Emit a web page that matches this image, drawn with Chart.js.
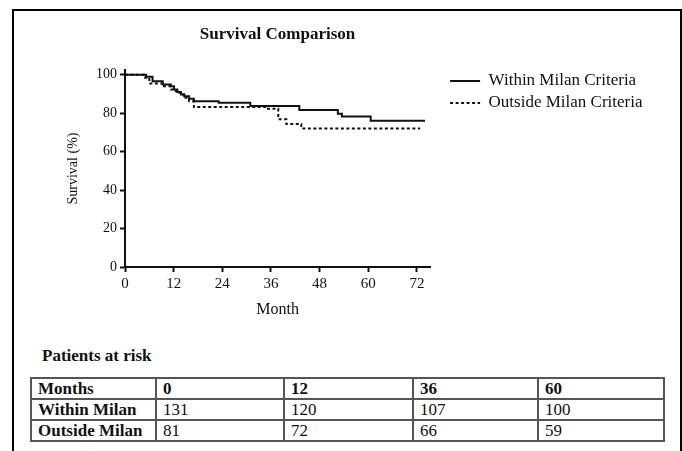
<!DOCTYPE html>
<html>
<head>
<meta charset="utf-8">
<script src="https://cdn.jsdelivr.net/npm/chart.js@4.4.1/dist/chart.umd.min.js"></script>
<style>
  html, body { margin: 0; padding: 0; background: #fff; }
  body { width: 682px; height: 451px; position: relative; overflow: hidden; font-family: "Liberation Serif", "Times New Roman", serif; color: #111; }
  #frame { position: absolute; left: 12px; top: 9px; width: 666px; height: 470px; border: 2px solid #000; border-bottom: none; }
  #wrap { position: absolute; left: 0; top: 0; width: 682px; height: 330px; }
  #riskTitle { position: absolute; left: 42px; top: 346px; font-weight: bold; font-size: 17px; }
  #risk { position: absolute; left: 30px; top: 377px; width: 633px; border-collapse: collapse; table-layout: fixed; font-size: 17px; }
  #risk td { border: 2px solid #555; padding: 0 6px; height: 19px; line-height: 19px; white-space: nowrap; }
  #risk td.b { font-weight: bold; }
</style>
</head>
<body>
<div id="frame"></div>
<div id="wrap"><canvas id="km"></canvas></div>
<div id="riskTitle">Patients at risk</div>
<table id="risk"></table>
<script>
// survival curves (months, % surviving)
const withinMonths = [0, 5.2, 6.8, 9.3, 11.3, 12.1, 12.9, 13.8, 14.6, 15.8, 17, 23.1, 30.9, 43, 52.5, 53.5, 60.6, 74];
const withinSurv   = [100, 99, 96.6, 94.9, 94, 92.3, 91, 89.7, 88.9, 87.5, 86.3, 85.5, 83.8, 81.7, 79.8, 78.3, 76.1, 76.1];
const outsideMonths = [0, 4.5, 6, 9.3, 11.3, 12.1, 12.9, 13.8, 14.6, 15.8, 17, 35, 37.8, 39.8, 43.5, 72.8];
const outsideSurv   = [100, 98.5, 95.5, 94, 92.3, 91.5, 90.6, 89.7, 88, 86.3, 83.2, 82.3, 76.9, 74.4, 72.1, 72.1];
const seriesNames = ['Within Milan Criteria', 'Outside Milan Criteria'];
const xTicks = [0, 12, 24, 36, 48, 60, 72];
const yTicks = [0, 20, 40, 60, 80, 100];

// patients at risk table
const riskMonths = [0, 12, 36, 60];
const riskRowNames = ['Within Milan', 'Outside Milan'];
const riskWithin = [131, 120, 107, 100];
const riskOutside = [81, 72, 66, 59];

const serif = '"Liberation Serif", "Times New Roman", serif';
const ink = '#111';

const toPts = (xs, ys) => xs.map((m, i) => ({ x: m, y: ys[i] }));

new Chart(document.getElementById('km'), {
  type: 'line',
  data: {
    datasets: [{
      label: seriesNames[0],
      data: toPts(withinMonths, withinSurv),
      borderColor: ink,
      borderWidth: 2,
      pointRadius: 0,
      stepped: 'before'
    }, {
      label: seriesNames[1],
      data: toPts(outsideMonths, outsideSurv),
      borderColor: ink,
      borderWidth: 2,
      borderDash: [3, 2.5],
      pointRadius: 0,
      stepped: 'before'
    }]
  },
  options: {
    responsive: true,
    maintainAspectRatio: false,
    animation: false,
    layout: { padding: { top: 15, left: 60.6, right: 29.5, bottom: 8.4 } },
    plugins: {
      title: {
        display: true,
        text: 'Survival Comparison',
        fullSize: false,
        color: ink,
        font: { family: serif, size: 17, weight: 'bold' },
        padding: { top: 9.8, bottom: 24.8 }
      },
      legend: {
        position: 'right',
        align: 'start',
        maxWidth: 300,
        title: { display: true, text: ' ', font: { size: 10 }, padding: { top: 40.5, bottom: 0 } },
        labels: {
          usePointStyle: true,
          pointStyle: 'line',
          pointStyleWidth: 30,
          padding: 5,
          color: ink,
          font: { family: serif, size: 17 },
          // point style 'line' would lose the dash, so pass it on by hand
          generateLabels: chart => chart.data.datasets.map((ds, i) => ({
            text: ds.label,
            fontColor: ink,
            strokeStyle: ds.borderColor,
            fillStyle: ds.borderColor,
            lineWidth: 1.8,
            lineDash: ds.borderDash || [],
            pointStyle: 'line',
            hidden: false,
            datasetIndex: i
          }))
        }
      },
      tooltip: { enabled: false }
    },
    scales: {
      x: {
        type: 'linear',
        min: 0,
        max: 75.25,
        afterBuildTicks: s => { s.ticks = xTicks.map(v => ({ value: v })); },
        ticks: { color: ink, font: { family: serif, size: 15 }, padding: 3, maxRotation: 0, autoSkip: false },
        grid: { drawOnChartArea: false, drawTicks: true, tickLength: 5, tickWidth: 2, color: ink },
        border: { color: ink, width: 2 },
        title: { display: true, text: 'Month', color: ink, font: { family: serif, size: 16 }, padding: { top: 4.4, bottom: 2 } }
      },
      y: {
        min: 0,
        max: 102.5,
        afterBuildTicks: s => { s.ticks = yTicks.map(v => ({ value: v })); },
        ticks: { color: ink, font: { family: serif, size: 14 }, padding: 3 },
        grid: { drawOnChartArea: false, drawTicks: true, tickLength: 5, tickWidth: 2, color: ink },
        border: { color: ink, width: 2 },
        title: { display: true, text: 'Survival (%)', color: ink, font: { family: serif, size: 14 }, padding: { top: 4, bottom: 11.6 } }
      },
      // empty spacer between plot and legend
      gap: {
        type: 'linear',
        position: 'right',
        grid: { display: false },
        border: { display: false },
        ticks: { display: false },
        afterFit: s => { s.width = 15; }
      }
    }
  }
});

// build the at-risk table from the arrays
const table = document.getElementById('risk');
const colW = [125, 128, 129, 125, 126];
const cg = document.createElement('colgroup');
colW.forEach(w => { const c = document.createElement('col'); c.style.width = w + 'px'; cg.appendChild(c); });
table.appendChild(cg);
const addRow = (cells, boldAll) => {
  const tr = document.createElement('tr');
  cells.forEach((v, i) => {
    const td = document.createElement('td');
    td.textContent = v;
    if (boldAll || i === 0) td.className = 'b';
    tr.appendChild(td);
  });
  table.appendChild(tr);
};
addRow(['Months'].concat(riskMonths), true);
addRow([riskRowNames[0]].concat(riskWithin), false);
addRow([riskRowNames[1]].concat(riskOutside), false);
</script>
</body>
</html>
